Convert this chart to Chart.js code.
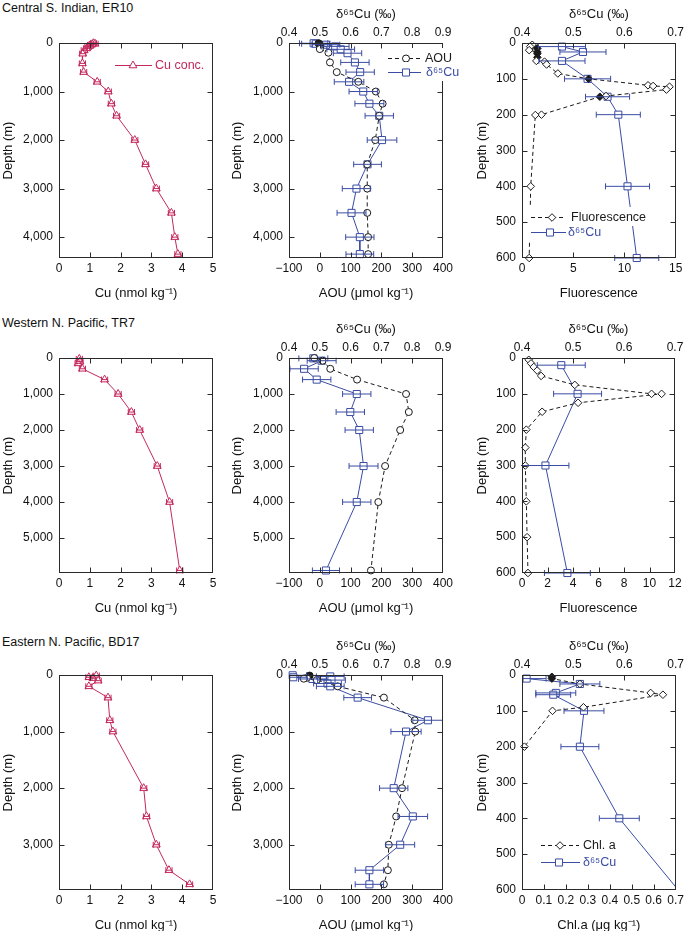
<!DOCTYPE html>
<html>
<head>
<meta charset="utf-8">
<script src="https://cdn.jsdelivr.net/npm/chart.js@4.4.1/dist/chart.umd.min.js"></script>
<style>
  html, body { margin: 0; padding: 0; background: #fff; overflow: hidden; }
  #page { position: relative; width: 685px; height: 931px; overflow: hidden;
          font-family: "Liberation Sans", Arial, Helvetica, sans-serif; }
  .panel { position: absolute; }
  .station { position: absolute; left: 2px; font-size: 12.5px; line-height: 14px; color: #111; white-space: nowrap; }
</style>
</head>
<body>
<div id="page">
  <div class="station" style="top:1px">Central S. Indian, ER10</div>
  <div class="station" style="top:316px">Western N. Pacific, TR7</div>
  <div class="station" style="top:635px">Eastern N. Pacific, BD17</div>
</div>
<script>
// ---- Central S. Indian, ER10 ----
const er10CuDepth = [5, 15, 25, 40, 60, 80, 110, 150, 220, 420, 600, 800, 1000, 1250, 1500, 2000, 2500, 3000, 3500, 4000, 4350];
const er10Cu      = [1.12, 1.17, 1.08, 1.03, 1.0, 0.94, 0.9, 0.82, 0.77, 0.76, 0.8, 1.24, 1.6, 1.7, 1.87, 2.46, 2.81, 3.16, 3.65, 3.76, 3.86];

const er10AouDepth = [5, 15, 30, 60, 125, 200, 400, 600, 800, 1000, 1250, 1500, 2000, 2500, 3000, 3500, 4000, 4350];
const er10Aou      = [-4, -2, 0, 2, 0, 28, 33, 55, 125, 182, 204, 193, 180, 154, 154, 154, 157, 157];

const er10DDepth = [5, 15, 35, 70, 130, 210, 400, 600, 800, 1000, 1250, 1500, 2000, 2500, 3000, 3500, 4000, 4350];
const er10D      = [0.48, 0.487, 0.52, 0.55, 0.568, 0.59, 0.614, 0.631, 0.595, 0.641, 0.661, 0.693, 0.702, 0.655, 0.619, 0.603, 0.63, 0.63];
const er10DErr   = [0.046, 0.046, 0.045, 0.045, 0.045, 0.046, 0.046, 0.046, 0.048, 0.046, 0.047, 0.046, 0.048, 0.045, 0.046, 0.047, 0.046, 0.045];

const er10FlDepth = [5, 10, 15, 20, 25, 30, 40, 50, 52, 60, 85, 100, 118, 120, 122, 130, 148, 150, 200, 201, 400, 600];
const er10Fl      = [1.0, 0.8, 1.5, 0.7, 1.5, 1.5, 1.5, 1.4, 2.2, 2.4, 3.5, 6.5, 12.3, 12.8, 14.4, 14.1, 8.2, 7.6, 1.9, 1.3, 0.85, 0.7];

const er10D2Depth = [10, 25, 50, 100, 150, 200, 400, 600];
const er10D2      = [0.478, 0.519, 0.478, 0.528, 0.567, 0.588, 0.606, 0.624];
const er10D2Err   = [0.046, 0.045, 0.045, 0.045, 0.043, 0.043, 0.043, 0.043];

// ---- Western N. Pacific, TR7 ----
const tr7CuDepth = [25, 100, 150, 300, 600, 1000, 1500, 2000, 3000, 4000, 5900];
const tr7Cu      = [0.66, 0.68, 0.62, 0.76, 1.48, 1.92, 2.35, 2.62, 3.19, 3.59, 3.92];

const tr7AouDepth = [0, 75, 300, 600, 1000, 1500, 2000, 3000, 4000, 5900];
const tr7Aou      = [-18, 9, 34, 121, 280, 289, 261, 212, 190, 166];

const tr7DDepth = [10, 75, 300, 600, 1000, 1500, 2000, 3000, 4000, 5900];
const tr7D      = [0.479, 0.506, 0.449, 0.49, 0.62, 0.599, 0.628, 0.642, 0.62, 0.52];
const tr7DErr   = [0.047, 0.047, 0.046, 0.046, 0.046, 0.046, 0.046, 0.047, 0.046, 0.044];

const tr7FlDepth = [5, 15, 25, 35, 50, 75, 100, 100, 125, 150, 200, 250, 300, 400, 500, 600];
const tr7Fl      = [0.53, 0.71, 0.92, 1.19, 1.5, 4.14, 10.16, 10.95, 4.4, 1.58, 0.34, 0.26, 0.26, 0.34, 0.4, 0.47];

const tr7D2Depth = [20, 100, 300, 600];
const tr7D2      = [0.477, 0.509, 0.446, 0.489];
const tr7D2Err   = [0.047, 0.047, 0.046, 0.045];

// ---- Eastern N. Pacific, BD17 ----
const bd17CuDepth = [10, 40, 55, 100, 200, 400, 800, 1000, 2000, 2500, 3000, 3450, 3700];
const bd17Cu      = [1.21, 0.97, 1.1, 1.27, 0.97, 1.59, 1.65, 1.75, 2.75, 2.84, 3.16, 3.57, 4.24];

const bd17AouDepth = [10, 50, 65, 90, 200, 400, 800, 1000, 2000, 2500, 3000, 3450, 3700];
const bd17Aou      = [-33, -42, -52, -10, 58, 208, 308, 310, 267, 248, 224, 221, 208];

const bd17DDepth = [5, 25, 40, 70, 90, 150, 200, 400, 800, 1000, 2000, 2500, 3000, 3450, 3700];
const bd17D      = [0.412, 0.534, 0.414, 0.476, 0.538, 0.525, 0.534, 0.623, 0.851, 0.78, 0.74, 0.802, 0.761, 0.661, 0.661];
const bd17DErr   = [0.045, 0.045, 0.045, 0.045, 0.045, 0.045, 0.045, 0.045, 0.049, 0.049, 0.046, 0.048, 0.047, 0.046, 0.046];

const bd17ChlDepth = [5, 10, 25, 50, 55, 90, 100, 200];
const bd17Chl      = [0.136, 0.136, 0.264, 0.586, 0.642, 0.28, 0.139, 0.011];

const bd17D2Depth = [10, 25, 50, 55, 100, 200, 400, 800];
const bd17D2      = [0.409, 0.513, 0.466, 0.461, 0.521, 0.513, 0.59, 0.82];
const bd17D2Err   = [0.038, 0.039, 0.039, 0.034, 0.039, 0.037, 0.039, 0];

const cuErr = 0.1;

// depth tick labels
const depthTicksER10 = [0, 1000, 2000, 3000, 4000];
const depthTicksTR7  = [0, 1000, 2000, 3000, 4000, 5000];
const depthTicksBD17 = [0, 1000, 2000, 3000];
const depthTicksUpper = [0, 100, 200, 300, 400, 500, 600];

// ---- styling / layout ----
const FONT = '"Liberation Sans", Arial, Helvetica, sans-serif';
const RED = '#c4285c';
const BLUE = '#3a4ca3';
const INK = '#1a1a1a';

const COLS = [{left: 0, yW: 59, w: 225}, {left: 229, yW: 60, w: 236}, {left: 474, yW: 48, w: 213}];
const ROW_TOP = [43, 358, 675];
const PLOT_H = 215, TOP_H = 40, BOT_H = 47;

Chart.defaults.font.family = FONT;
Chart.defaults.font.size = 12;
Chart.defaults.color = '#111';

const pts = (xs, ys) => xs.map((v, i) => ({x: v, y: ys[i]}));

const fmtDepth = v => v.toLocaleString('en-US');
const fmtPlain = v => String(v);
const fmtMinus = v => (v < 0 ? '\u2212' + Math.abs(v) : String(v));
const fmt1 = v => v.toFixed(1);
const fmtChl = v => (v === 0 ? '0' : v.toFixed(1));

function baseSet(extra) {
  return Object.assign({
    showLine: true, fill: false, tension: 0, borderWidth: 1,
    pointBorderWidth: 1, pointBackgroundColor: '#fff', clip: false
  }, extra);
}
function cuSet(depth, cu) {
  return baseSet({data: pts(cu, depth), errX: cuErr, borderColor: RED, pointBorderColor: RED,
    pointStyle: 'triangle', pointRadius: 4.5});
}
function deltaSet(depth, d, err) {
  return baseSet({data: pts(d, depth), errX: err, xAxisID: 'x2', borderColor: BLUE, pointBorderColor: BLUE,
    pointStyle: 'rect', pointRadius: 5});
}
function aouSet(depth, aou, dense) {
  return baseSet({data: pts(aou, depth), borderColor: INK, pointBorderColor: INK, borderDash: [4, 3],
    pointStyle: 'circle', pointRadius: 3.5,
    pointBackgroundColor: c => (dense && dense.includes(c.dataIndex) ? INK : '#fff')});
}
function diamondSet(depth, v, dense) {
  return baseSet({data: pts(v, depth), borderColor: INK, pointBorderColor: INK, borderDash: [4, 3],
    pointStyle: 'rectRot', pointRadius: 3.8,
    pointBackgroundColor: c => (dense && dense.includes(c.dataIndex) ? INK : '#fff')});
}

function drawMarker(ctx, style, r, x, y) {
  ctx.beginPath();
  if (style === 'circle') ctx.arc(x, y, r, 0, Math.PI * 2);
  else if (style === 'rect') { const s = r * Math.SQRT1_2; ctx.rect(x - s, y - s, 2 * s, 2 * s); }
  else if (style === 'triangle') {
    for (let k = 0; k < 3; k++) {
      const a = k * 2 * Math.PI / 3;
      const px = x + Math.sin(a) * r, py = y - Math.cos(a) * r;
      k ? ctx.lineTo(px, py) : ctx.moveTo(px, py);
    }
    ctx.closePath();
  } else if (style === 'rectRot') {
    ctx.moveTo(x, y - r); ctx.lineTo(x + r, y); ctx.lineTo(x, y + r); ctx.lineTo(x - r, y); ctx.closePath();
  }
  ctx.fill(); ctx.stroke();
}

const framePlugin = {
  id: 'frame',
  afterDatasetsDraw(chart) {
    const {ctx, chartArea: a, scales} = chart;
    ctx.save();
    ctx.lineWidth = 1;
    ctx.setLineDash([]);
    // horizontal error bars
    chart.data.datasets.forEach((ds, i) => {
      if (ds.errX === undefined) return;
      const meta = chart.getDatasetMeta(i);
      const xs = scales[ds.xAxisID || 'x'];
      ctx.save();
      ctx.beginPath();
      ctx.rect(a.left, a.top - 10, a.width, a.height + 20);
      ctx.clip();
      ctx.strokeStyle = ds.borderColor;
      ds.data.forEach((p, j) => {
        const e = Array.isArray(ds.errX) ? ds.errX[j] : ds.errX;
        if (!e) return;
        const y = meta.data[j].y;
        const x1 = xs.getPixelForValue(p.x - e), x2 = xs.getPixelForValue(p.x + e);
        ctx.beginPath();
        ctx.moveTo(x1, y); ctx.lineTo(x2, y);
        ctx.moveTo(x1, y - 3); ctx.lineTo(x1, y + 3);
        ctx.moveTo(x2, y - 3); ctx.lineTo(x2, y + 3);
        ctx.stroke();
      });
      ctx.restore();
    });
    // frame with inward ticks
    ctx.strokeStyle = '#2a2a2a';
    const L = Math.round(a.left) + 0.5, R = Math.round(a.right) - 0.5;
    const T = Math.round(a.top) + 0.5, B = Math.round(a.bottom) - 0.5;
    ctx.strokeRect(L, T, R - L, B - T);
    const TL = 5;
    ctx.beginPath();
    scales.y.ticks.forEach(t => {
      const p = Math.round(scales.y.getPixelForValue(t.value)) + 0.5;
      if (p < T + 2 || p > B - 2) return;
      ctx.moveTo(L, p); ctx.lineTo(L + TL, p);
      ctx.moveTo(R, p); ctx.lineTo(R - TL, p);
    });
    scales.x.ticks.forEach(t => {
      const p = Math.round(scales.x.getPixelForValue(t.value)) + 0.5;
      if (p < L + 2 || p > R - 2) return;
      ctx.moveTo(p, B); ctx.lineTo(p, B - TL);
      if (!scales.x2) { ctx.moveTo(p, T); ctx.lineTo(p, T + TL); }
    });
    if (scales.x2) {
      scales.x2.ticks.forEach(t => {
        const p = Math.round(scales.x2.getPixelForValue(t.value)) + 0.5;
        if (p < L + 2 || p > R - 2) return;
        ctx.moveTo(p, T); ctx.lineTo(p, T + TL);
      });
    }
    ctx.stroke();
    ctx.restore();
  },
  afterDraw(chart, args, opts) {
    const rows = opts.legend || [];
    const {ctx} = chart;
    ctx.save();
    ctx.font = '12.5px ' + FONT;
    ctx.textBaseline = 'middle';
    rows.forEach(r => {
      const ds = chart.data.datasets[r.ds];
      const tw = ctx.measureText(r.text).width;
      ctx.fillStyle = '#fff';
      ctx.fillRect(r.x0 - 2, r.y - 10, r.tx + tw + 3 - (r.x0 - 2), 19);
      ctx.strokeStyle = ds.borderColor;
      ctx.lineWidth = 1;
      ctx.setLineDash(ds.borderDash || []);
      ctx.beginPath();
      ctx.moveTo(r.x0, r.y + 0.5); ctx.lineTo(r.x1, r.y + 0.5);
      ctx.stroke();
      ctx.setLineDash([]);
      ctx.fillStyle = '#fff';
      drawMarker(ctx, ds.pointStyle, ds.pointRadius, r.mx, r.y + 0.5);
      ctx.fillStyle = r.color;
      ctx.fillText(r.text, r.tx, r.y + 1);
    });
    ctx.restore();
  }
};

function axisTitle(text, pad) {
  return {display: true, text, font: {size: 13}, color: '#111', padding: pad};
}

function makePanel(col, row, cfg) {
  const c = COLS[col];
  const top = ROW_TOP[row] - TOP_H;
  const h = TOP_H + PLOT_H + BOT_H;
  const wrap = document.createElement('div');
  wrap.className = 'panel';
  wrap.style.left = c.left + 'px';
  wrap.style.top = top + 'px';
  wrap.style.width = c.w + 'px';
  wrap.style.height = h + 'px';
  const cv = document.createElement('canvas');
  cv.width = c.w; cv.height = h;
  cv.style.width = c.w + 'px'; cv.style.height = h + 'px';
  wrap.appendChild(cv);
  document.getElementById('page').appendChild(wrap);

  const scales = {
    y: {
      type: 'linear', reverse: true, min: 0, max: cfg.yMax,
      ticks: {callback: fmtDepth, padding: 6, autoSkip: false},
      afterBuildTicks: s => { s.ticks = cfg.yTicks.map(v => ({value: v})); },
      grid: {display: false, drawTicks: false}, border: {display: false},
      title: axisTitle('Depth (m)', {top: 1, bottom: 0}),
      afterFit: s => { s.width = c.yW; }
    },
    x: {
      type: 'linear', position: 'bottom', min: cfg.x.min, max: cfg.x.max,
      ticks: {stepSize: cfg.x.step, includeBounds: false, callback: cfg.x.fmt, padding: 3,
              autoSkip: false, maxRotation: 0, minRotation: 0},
      grid: {display: false, drawTicks: false}, border: {display: false},
      title: axisTitle(cfg.x.title, {top: 0, bottom: 4}),
      afterFit: s => { s.height = BOT_H; }
    }
  };
  if (cfg.x2) {
    scales.x2 = {
      type: 'linear', position: 'top', min: cfg.x2.min, max: cfg.x2.max,
      ticks: {stepSize: 0.1, includeBounds: false, callback: fmt1, padding: 3,
              autoSkip: false, maxRotation: 0, minRotation: 0},
      grid: {display: false, drawTicks: false}, border: {display: false},
      title: axisTitle('\u03b4\u2076\u2075Cu (\u2030)', {top: 4, bottom: 0}),
      afterFit: s => { s.height = TOP_H; }
    };
  }
  const legend = (cfg.legend || []).map(r => Object.assign({}, r, {
    x0: r.x0 - c.left, x1: r.x1 - c.left, mx: r.mx - c.left, tx: r.tx - c.left, y: r.y - top
  }));
  new Chart(cv, {
    type: 'scatter',
    data: {datasets: cfg.datasets},
    options: {
      responsive: false, animation: false, devicePixelRatio: 1, events: [],
      layout: {padding: {left: 0, top: cfg.x2 ? 0 : TOP_H, right: c.w - c.yW - cfg.plotW, bottom: 0}},
      plugins: {legend: {display: false}, tooltip: {enabled: false}, frame: {legend}},
      scales
    },
    plugins: [framePlugin]
  });
}

const cuAxis = {min: 0, max: 5, step: 1, fmt: fmtPlain, title: 'Cu (nmol kg\u207b\u00b9)'};
const aouAxis = {min: -100, max: 400, step: 100, fmt: fmtMinus, title: 'AOU (\u03bcmol kg\u207b\u00b9)'};
const DEL = '\u03b4\u2076\u2075Cu';

// Row 1: ER10
makePanel(0, 0, {
  plotW: 154, yMax: 4430, yTicks: depthTicksER10, x: cuAxis,
  datasets: [cuSet(er10CuDepth, er10Cu)],
  legend: [{ds: 0, text: 'Cu conc.', color: RED, x0: 115, x1: 152, mx: 133, tx: 155, y: 65}]
});
makePanel(1, 0, {
  plotW: 154, yMax: 4430, yTicks: depthTicksER10, x: aouAxis, x2: {min: 0.4, max: 0.9},
  datasets: [aouSet(er10AouDepth, er10Aou, [0, 1, 2, 3]), deltaSet(er10DDepth, er10D, er10DErr)],
  legend: [
    {ds: 0, text: 'AOU', color: INK, x0: 388, x1: 421, mx: 406, tx: 425, y: 58},
    {ds: 1, text: DEL, color: BLUE, x0: 388, x1: 421, mx: 406, tx: 426, y: 72}
  ]
});
makePanel(2, 0, {
  plotW: 155, yMax: 600, yTicks: depthTicksUpper, x: {min: 0, max: 15, step: 5, fmt: fmtPlain, title: 'Fluorescence'},
  x2: {min: 0.4, max: 0.7},
  datasets: [diamondSet(er10FlDepth, er10Fl, [2, 4, 5, 6, 11, 17]), deltaSet(er10D2Depth, er10D2, er10D2Err)],
  legend: [
    {ds: 0, text: 'Fluorescence', color: INK, x0: 531, x1: 566, mx: 552, tx: 571, y: 217},
    {ds: 1, text: DEL, color: BLUE, x0: 531, x1: 566, mx: 550, tx: 568, y: 232}
  ]
});

// Row 2: TR7
makePanel(0, 1, {
  plotW: 154, yMax: 5970, yTicks: depthTicksTR7, x: cuAxis,
  datasets: [cuSet(tr7CuDepth, tr7Cu)]
});
makePanel(1, 1, {
  plotW: 154, yMax: 5970, yTicks: depthTicksTR7, x: aouAxis, x2: {min: 0.4, max: 0.9},
  datasets: [aouSet(tr7AouDepth, tr7Aou), deltaSet(tr7DDepth, tr7D, tr7DErr)]
});
makePanel(2, 1, {
  plotW: 153, yMax: 600, yTicks: depthTicksUpper, x: {min: 0, max: 12, step: 2, fmt: fmtPlain, title: 'Fluorescence'},
  x2: {min: 0.4, max: 0.7},
  datasets: [diamondSet(tr7FlDepth, tr7Fl), deltaSet(tr7D2Depth, tr7D2, tr7D2Err)]
});

// Row 3: BD17
makePanel(0, 2, {
  plotW: 154, yMax: 3800, yTicks: depthTicksBD17, x: cuAxis,
  datasets: [cuSet(bd17CuDepth, bd17Cu)]
});
makePanel(1, 2, {
  plotW: 154, yMax: 3800, yTicks: depthTicksBD17, x: aouAxis, x2: {min: 0.4, max: 0.9},
  datasets: [aouSet(bd17AouDepth, bd17Aou, [0]), deltaSet(bd17DDepth, bd17D, bd17DErr)]
});
const bd17Delta = deltaSet(bd17D2Depth, bd17D2, bd17D2Err);
bd17Delta.clip = {left: 10, top: 10, right: 0, bottom: 0};
makePanel(2, 2, {
  plotW: 154, yMax: 600, yTicks: depthTicksUpper,
  x: {min: 0, max: 0.7, step: 0.1, fmt: fmtChl, title: 'Chl.a (\u03bcg kg\u207b\u00b9)'},
  x2: {min: 0.4, max: 0.7},
  datasets: [diamondSet(bd17ChlDepth, bd17Chl, [0, 1]), bd17Delta],
  legend: [
    {ds: 0, text: 'Chl. a', color: INK, x0: 541, x1: 579, mx: 560, tx: 583, y: 845},
    {ds: 1, text: DEL, color: BLUE, x0: 541, x1: 580, mx: 559, tx: 583, y: 862}
  ]
});
</script>
</body>
</html>
